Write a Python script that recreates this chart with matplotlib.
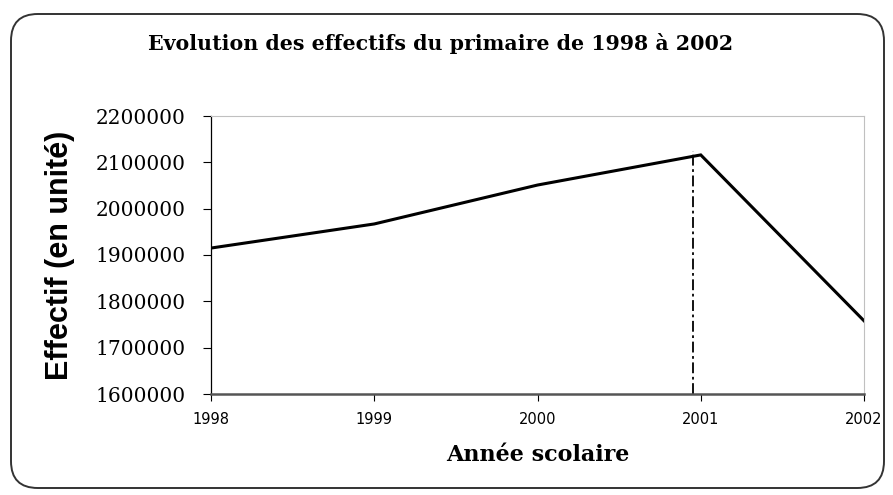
import matplotlib.pyplot as plt
from matplotlib.patches import FancyBboxPatch

years = [1998, 1999, 2000, 2001, 2002]
effectifs = [1915000, 1967000, 2051000, 2116000, 1758000]
yticks = [1600000, 1700000, 1800000, 1900000, 2000000, 2100000, 2200000]
marker_year = 2000.95

fig = plt.figure(figsize=(8.93, 4.95), dpi=100)
ax = fig.add_axes([211/893, 1 - 394/495, (864-211)/893, (394-116)/495])

ax.plot(years, effectifs, color='black', lw=2.2, solid_joinstyle='miter')
ax.vlines(marker_year, yticks[0], effectifs[3] + 8000, colors='black',
          linestyles=(0, (6, 2, 1.5, 2)), lw=1.3)

ax.set_xlim(years[0], years[-1])
ax.set_ylim(yticks[0], yticks[-1])
ax.set_xticks(years)
ax.set_xticklabels([str(y) for y in years], fontsize=10.5, family='DejaVu Sans')
ax.set_yticks(yticks)
ax.set_yticklabels([str(v) for v in yticks], fontsize=14.5, family='DejaVu Serif')
ax.tick_params(axis='y', length=6, width=0.8, pad=12)
ax.tick_params(axis='x', length=5, width=0.8, pad=8)

ax.spines['left'].set_color('black')
ax.spines['left'].set_linewidth(0.9)
ax.spines['bottom'].set_color('#555555')
ax.spines['bottom'].set_linewidth(1.8)
ax.spines['top'].set_color('#c0c0c0')
ax.spines['right'].set_color('#c0c0c0')

ax.set_ylabel('Effectif (en unité)', fontsize=22, fontweight='bold',
              family='Liberation Sans', labelpad=15)
ax.set_xlabel('Année scolaire', fontsize=16, fontweight='bold',
              family='DejaVu Serif', labelpad=12)

fig.text(441/893, 1 - 43/495, 'Evolution des effectifs du primaire de 1998 à 2002',
         ha='center', va='center', fontsize=14.8, fontweight='bold',
         family='DejaVu Serif')

border = FancyBboxPatch((11/893, 1 - 488/495), (884-11)/893, (488-14)/495,
                        boxstyle='round,pad=0,rounding_size=0.03',
                        transform=fig.transFigure, fill=False,
                        edgecolor='#333333', lw=1.4, mutation_aspect=893/495)
fig.patches.append(border)

fig.savefig('out.png', dpi=100)
